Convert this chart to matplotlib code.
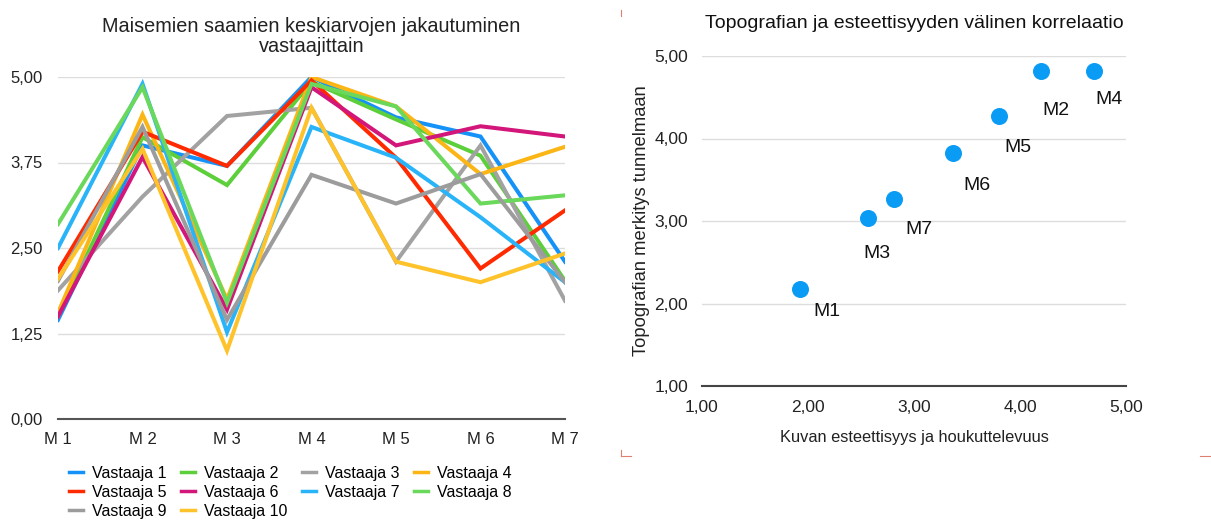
import matplotlib
matplotlib.use("Agg")
import matplotlib.pyplot as plt
from matplotlib.lines import Line2D
from matplotlib.ticker import FuncFormatter

plt.rcParams['font.family'] = ['Liberation Sans', 'DejaVu Sans']

# data: left chart
kuvat = ['M 1', 'M 2', 'M 3', 'M 4', 'M 5', 'M 6', 'M 7']
vastaaja1 = [1.45, 4.00, 3.70, 5.00, 4.41, 4.13, 2.30]
vastaaja2 = [1.50, 4.12, 3.42, 4.93, 4.38, 3.85, 2.02]
vastaaja3 = [1.88, 3.25, 4.43, 4.55, 2.30, 4.00, 1.73]
vastaaja4 = [1.55, 4.45, 1.75, 5.00, 4.57, 3.58, 3.98]
vastaaja5 = [2.16, 4.20, 3.70, 4.95, 3.82, 2.20, 3.05]
vastaaja6 = [1.50, 3.83, 1.60, 4.85, 4.00, 4.28, 4.13]
vastaaja7 = [2.50, 4.90, 1.27, 4.27, 3.82, 2.95, 2.00]
vastaaja8 = [2.85, 4.85, 1.70, 4.90, 4.57, 3.15, 3.27]
vastaaja9 = [2.02, 4.27, 1.45, 3.57, 3.15, 3.58, 2.00]
vastaaja10 = [2.05, 3.95, 1.00, 4.55, 2.30, 2.00, 2.42]

sarjat = [vastaaja1, vastaaja2, vastaaja3, vastaaja4, vastaaja5,
          vastaaja6, vastaaja7, vastaaja8, vastaaja9, vastaaja10]
nimet = ['Vastaaja %d' % (i + 1) for i in range(10)]
varit = ['#1592f7', '#5ccf3a', '#a2a2a2', '#fbb515', '#ff2a00',
         '#d3167a', '#29b3f8', '#6ad85a', '#9c9c9c', '#fec22a']

# data: right chart
esteettisyys = [1.92, 4.20, 2.57, 4.70, 3.80, 3.37, 2.81]
topografia = [2.18, 4.82, 3.04, 4.82, 4.27, 3.82, 3.27]
pisteet = ['M1', 'M2', 'M3', 'M4', 'M5', 'M6', 'M7']
# label offsets (pixels, left edge / vertical centre) for the point labels
siirrot = [(14, -23), (1, -40), (-5, -36), (1, -29), (6, -31), (10, -32), (12, -31)]

W, H = 1211, 521
fig = plt.figure(figsize=(W / 100, H / 100), dpi=100)

def box(x0, y0, x1, y1):
    return [x0 / W, 1 - y1 / H, (x1 - x0) / W, (y1 - y0) / H]

fmt = FuncFormatter(lambda v, p: ('%.2f' % v).replace('.', ','))

# ---- left: line chart
ax = fig.add_axes(box(58, 77, 565, 419))
x = range(len(kuvat))
for s, n, c in zip(sarjat, nimet, varit):
    ax.plot(x, s, color=c, lw=2.9, label=n, solid_joinstyle='miter')
ax.set_xlim(0, len(kuvat) - 1)
ax.set_ylim(0, 5)
ax.set_yticks([0, 1.25, 2.5, 3.75, 5])
ax.yaxis.set_major_formatter(fmt)
ax.set_xticks(list(x))
ax.set_xticklabels(kuvat)
ax.grid(axis='y', color='#dddddd', lw=1)
ax.set_axisbelow(True)
for sp in ['top', 'right', 'left']:
    ax.spines[sp].set_visible(False)
ax.spines['bottom'].set_color('#555555')
ax.spines['bottom'].set_linewidth(1.5)
ax.tick_params(length=0, labelsize=12, colors='#222222', pad=9)
ax.tick_params(axis='y', pad=11)
ax.set_title('Maisemien saamien keskiarvojen jakautuminen\nvastaajittain',
             fontsize=14.3, color='#222222', pad=18, linespacing=1.05)

# legend filled row by row
jarj = [0, 4, 8, 1, 5, 9, 2, 6, 3, 7]
kahvat = [Line2D([0], [0], color=varit[i], lw=2.5) for i in jarj]
fig.legend(kahvat, [nimet[i] for i in jarj], loc='upper left',
           bbox_to_anchor=(69 / W, 1 - 466 / H),
           ncol=4, frameon=False, fontsize=11.5, handlelength=0.85,
           handletextpad=0.6, columnspacing=0.9, labelspacing=0.25,
           borderpad=0, borderaxespad=0)

# ---- right: scatter
ax2 = fig.add_axes(box(702, 56, 1126, 386))
ax2.scatter(esteettisyys, topografia, s=150, color='#0a9cf5', zorder=3, lw=0)
for xi, yi, t, (dx, dy) in zip(esteettisyys, topografia, pisteet, siirrot):
    ax2.annotate(t, (xi, yi), xytext=(dx * 0.72, dy * 0.72), textcoords='offset points',
                 fontsize=14, ha='left', va='center', color='#111111')
ax2.set_xlim(1, 5)
ax2.set_ylim(1, 5)
ax2.set_xticks([1, 2, 3, 4, 5])
ax2.set_yticks([1, 2, 3, 4, 5])
ax2.xaxis.set_major_formatter(fmt)
ax2.yaxis.set_major_formatter(fmt)
ax2.grid(axis='y', color='#dddddd', lw=1)
ax2.set_axisbelow(True)
for sp in ['top', 'right', 'left']:
    ax2.spines[sp].set_visible(False)
ax2.spines['bottom'].set_color('#444444')
ax2.spines['bottom'].set_linewidth(1.5)
ax2.tick_params(length=0, labelsize=12.5, colors='#222222', pad=10)
ax2.tick_params(axis='y', pad=10)
ax2.set_title('Topografian ja esteettisyyden välinen korrelaatio', fontsize=14,
              color='#111111', pad=20)
ax2.set_xlabel('Kuvan esteettisyys ja houkuttelevuus', fontsize=11.8,
               color='#222222', labelpad=11)
ax2.set_ylabel('Topografian merkitys tunnelmaan', fontsize=13.2,
               color='#222222', labelpad=3)

# small corner marks
for (xa, ya, xb, yb) in [(621, 10, 621, 16), (621, 450, 621, 456),
                         (621, 456, 631, 456), (1200, 456, 1211, 456)]:
    fig.add_artist(Line2D([xa / W, xb / W], [1 - ya / H, 1 - yb / H],
                          color='#e08070', lw=0.8))

fig.savefig('out.png', dpi=100)
